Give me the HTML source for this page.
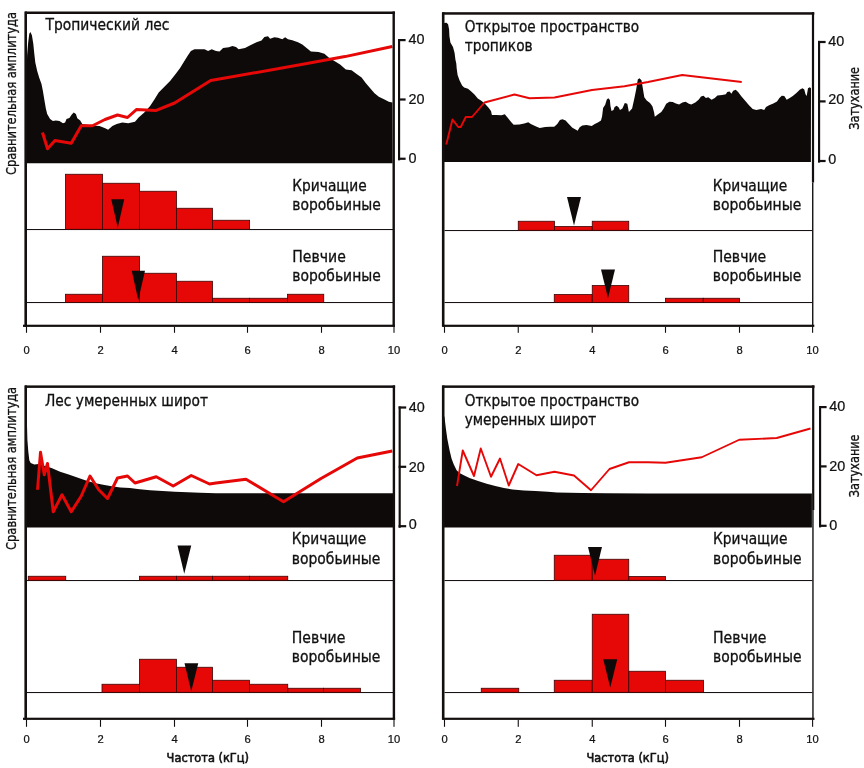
<!DOCTYPE html>
<html lang="ru"><head><meta charset="utf-8"><title>Частота (кГц)</title>
<style>html,body{margin:0;padding:0;background:#fff}svg{display:block}text{white-space:pre}</style>
</head><body>
<svg width="864" height="768" viewBox="0 0 864 768">
<rect width="864" height="768" fill="#fff"/>
<polygon points="27.00,163.20 27.00,60.00 27.10,55.20 28.20,42.30 29.30,33.70 30.40,32.00 31.90,35.20 33.30,43.80 34.30,53.80 35.30,62.40 37.20,71.00 39.30,78.10 41.50,83.90 42.90,91.00 44.30,99.60 45.80,108.20 47.20,114.00 50.10,119.00 52.90,121.10 55.80,120.40 59.40,121.10 63.00,123.30 65.10,122.60 66.50,119.00 69.40,118.00 71.60,114.70 73.70,112.50 75.90,114.00 77.30,118.30 80.20,120.40 82.30,124.00 92.30,125.40 99.50,126.10 105.20,128.30 108.10,129.70 112.40,126.10 116.70,124.00 122.40,122.60 128.20,123.30 135.00,121.80 138.60,117.50 144.30,112.50 150.10,106.10 154.40,99.60 158.70,92.50 164.40,86.70 170.10,81.00 175.80,73.80 180.10,68.10 184.40,61.00 188.00,55.20 190.90,50.90 194.50,49.20 204.50,49.20 208.10,50.90 211.70,49.20 216.00,50.90 219.50,51.60 223.10,48.10 228.90,47.30 232.40,45.90 236.00,47.00 238.60,49.20 245.00,48.10 250.80,44.90 256.50,42.30 261.50,40.60 264.40,36.90 268.00,36.30 270.10,38.70 274.40,37.30 278.00,37.70 282.30,39.20 285.10,37.30 288.00,39.20 292.30,40.20 298.00,42.30 302.30,44.50 306.60,48.10 310.90,51.60 318.60,52.10 324.40,53.80 328.70,57.40 334.40,61.00 340.10,64.50 345.80,69.50 351.60,70.30 357.30,74.60 361.60,77.40 365.90,83.20 370.20,88.20 374.50,93.20 378.80,96.80 384.50,99.60 388.80,101.80 392.40,102.50 392.60,163.20" fill="#0f0a0a"/>
<polyline points="42.50,132.50 47.50,148.75 55.00,140.50 71.25,143.25 81.25,125.75 92.50,125.75 105.00,119.50 117.50,115.00 127.50,117.50 136.40,109.60 155.60,110.60 174.60,103.00 210.70,80.40 235.00,76.30 300.00,64.80 345.00,56.60 392.30,46.50" fill="none" stroke="#e60707" stroke-width="3.00" stroke-linejoin="round" stroke-linecap="butt"/>
<rect x="25.00" y="11.50" width="369.90" height="2.50" fill="#140f0f"/>
<rect x="24.40" y="11.50" width="2.60" height="315.30" fill="#140f0f"/>
<rect x="392.50" y="11.50" width="2.40" height="315.30" fill="#140f0f"/>
<rect x="23.00" y="324.70" width="371.90" height="2.20" fill="#140f0f"/>
<rect x="25.95" y="326.80" width="1.10" height="6.00" fill="#140f0f"/>
<rect x="99.95" y="326.80" width="1.10" height="6.00" fill="#140f0f"/>
<rect x="173.95" y="326.80" width="1.10" height="6.00" fill="#140f0f"/>
<rect x="246.95" y="326.80" width="1.10" height="6.00" fill="#140f0f"/>
<rect x="320.95" y="326.80" width="1.10" height="6.00" fill="#140f0f"/>
<rect x="393.45" y="326.80" width="1.10" height="6.00" fill="#140f0f"/>
<rect x="27.00" y="229.00" width="366.00" height="1.05" fill="#1a1212"/>
<rect x="27.00" y="302.00" width="366.00" height="1.05" fill="#1a1212"/>
<rect x="65.50" y="174.25" width="37.00" height="55.05" fill="#e60707" stroke="#3a0505" stroke-width="0.8"/>
<rect x="102.50" y="183.25" width="37.00" height="46.05" fill="#e60707" stroke="#3a0505" stroke-width="0.8"/>
<rect x="139.50" y="191.25" width="37.00" height="38.05" fill="#e60707" stroke="#3a0505" stroke-width="0.8"/>
<rect x="176.50" y="208.25" width="36.00" height="21.05" fill="#e60707" stroke="#3a0505" stroke-width="0.8"/>
<rect x="212.50" y="220.25" width="37.10" height="9.05" fill="#e60707" stroke="#3a0505" stroke-width="0.8"/>
<rect x="65.50" y="294.25" width="37.00" height="8.25" fill="#e60707" stroke="#3a0505" stroke-width="0.8"/>
<rect x="102.50" y="256.25" width="37.00" height="46.25" fill="#e60707" stroke="#3a0505" stroke-width="0.8"/>
<rect x="139.50" y="273.25" width="37.00" height="29.25" fill="#e60707" stroke="#3a0505" stroke-width="0.8"/>
<rect x="176.50" y="281.25" width="36.00" height="21.25" fill="#e60707" stroke="#3a0505" stroke-width="0.8"/>
<rect x="212.50" y="298.25" width="36.90" height="4.25" fill="#e60707" stroke="#3a0505" stroke-width="0.8"/>
<rect x="249.40" y="298.25" width="38.10" height="4.25" fill="#e60707" stroke="#3a0505" stroke-width="0.8"/>
<rect x="287.50" y="294.25" width="36.25" height="8.25" fill="#e60707" stroke="#3a0505" stroke-width="0.8"/>
<polygon points="111.25,199.25 124.25,199.25 117.75,227.50" fill="#0f0a0a"/>
<polygon points="131.75,270.75 145.00,270.75 138.25,300.00" fill="#0f0a0a"/>
<text x="26.50" y="353.60" font-family="'Liberation Sans',sans-serif" font-size="11.20" text-anchor="middle" fill="#111" stroke="#111" stroke-width="0.22">0</text>
<text x="100.50" y="353.60" font-family="'Liberation Sans',sans-serif" font-size="11.20" text-anchor="middle" fill="#111" stroke="#111" stroke-width="0.22">2</text>
<text x="174.50" y="353.60" font-family="'Liberation Sans',sans-serif" font-size="11.20" text-anchor="middle" fill="#111" stroke="#111" stroke-width="0.22">4</text>
<text x="247.50" y="353.60" font-family="'Liberation Sans',sans-serif" font-size="11.20" text-anchor="middle" fill="#111" stroke="#111" stroke-width="0.22">6</text>
<text x="321.50" y="353.60" font-family="'Liberation Sans',sans-serif" font-size="11.20" text-anchor="middle" fill="#111" stroke="#111" stroke-width="0.22">8</text>
<text x="394.00" y="353.60" font-family="'Liberation Sans',sans-serif" font-size="11.20" text-anchor="middle" fill="#111" stroke="#111" stroke-width="0.22">10</text>
<rect x="398.00" y="39.00" width="2.15" height="121.35" fill="#140f0f"/>
<rect x="398.00" y="39.00" width="7.60" height="2.20" fill="#140f0f"/>
<rect x="398.00" y="98.40" width="7.60" height="2.20" fill="#140f0f"/>
<rect x="398.00" y="157.65" width="7.60" height="2.20" fill="#140f0f"/>
<text x="408.40" y="43.70" font-family="'Liberation Sans',sans-serif" font-size="14.40" text-anchor="start" fill="#111" stroke="#111" stroke-width="0.22">40</text>
<text x="408.40" y="103.70" font-family="'Liberation Sans',sans-serif" font-size="14.40" text-anchor="start" fill="#111" stroke="#111" stroke-width="0.22">20</text>
<text x="408.40" y="162.70" font-family="'Liberation Sans',sans-serif" font-size="14.40" text-anchor="start" fill="#111" stroke="#111" stroke-width="0.22">0</text>
<text x="45.50" y="30.00" font-family="'DejaVu Sans Condensed','DejaVu Sans','Liberation Sans',sans-serif" font-size="15.50" text-anchor="start" fill="#111" stroke="#111" stroke-width="0.3" textLength="124.00" lengthAdjust="spacingAndGlyphs">Тропический лес</text>
<text x="292.30" y="190.50" font-family="'DejaVu Sans Condensed','DejaVu Sans','Liberation Sans',sans-serif" font-size="15.30" text-anchor="start" fill="#111" stroke="#111" stroke-width="0.3" textLength="74.50" lengthAdjust="spacingAndGlyphs">Кричащие</text>
<text x="292.30" y="209.50" font-family="'DejaVu Sans Condensed','DejaVu Sans','Liberation Sans',sans-serif" font-size="15.30" text-anchor="start" fill="#111" stroke="#111" stroke-width="0.3" textLength="88.50" lengthAdjust="spacingAndGlyphs">воробьиные</text>
<text x="292.30" y="261.75" font-family="'DejaVu Sans Condensed','DejaVu Sans','Liberation Sans',sans-serif" font-size="15.30" text-anchor="start" fill="#111" stroke="#111" stroke-width="0.3" textLength="53.50" lengthAdjust="spacingAndGlyphs">Певчие</text>
<text x="292.30" y="280.50" font-family="'DejaVu Sans Condensed','DejaVu Sans','Liberation Sans',sans-serif" font-size="15.30" text-anchor="start" fill="#111" stroke="#111" stroke-width="0.3" textLength="88.50" lengthAdjust="spacingAndGlyphs">воробьиные</text>
<text transform="translate(15.60,93.50) rotate(-90)" font-family="'DejaVu Sans Condensed','DejaVu Sans','Liberation Sans',sans-serif" font-size="14.30" text-anchor="middle" fill="#111" stroke="#111" stroke-width="0.3" textLength="163.00" lengthAdjust="spacingAndGlyphs">Сравнительная амплитуда</text>
<polygon points="444.00,162.00 444.00,23.00 446.50,22.80 448.10,24.30 449.10,29.50 449.40,36.00 450.40,42.60 453.00,47.10 454.60,53.00 455.40,59.50 456.30,63.40 456.70,68.60 457.60,75.10 459.50,80.30 462.10,85.50 464.10,87.50 468.00,88.80 471.25,91.40 474.50,94.60 477.80,98.50 481.70,101.10 484.90,103.75 488.40,107.40 491.00,110.90 491.90,115.00 495.90,115.00 501.60,115.30 504.80,114.20 508.10,118.20 511.30,122.30 513.70,124.70 519.40,124.40 524.30,123.40 528.30,122.30 530.80,123.90 535.60,126.30 539.70,127.90 545.30,127.10 550.00,126.70 554.20,126.70 557.30,124.00 559.90,119.90 562.50,119.20 565.60,120.40 568.75,124.00 572.40,127.70 576.00,129.80 577.60,130.80 579.70,127.20 582.30,125.60 586.50,125.10 591.70,126.10 594.80,124.00 597.90,122.50 601.00,120.40 602.10,116.25 603.10,107.90 605.20,104.80 606.80,99.60 608.30,98.30 609.90,100.10 610.40,105.80 611.50,111.00 613.50,110.00 614.60,106.90 616.70,105.80 618.75,107.40 620.00,110.00 622.40,108.60 624.80,102.90 627.30,103.80 628.90,111.90 632.10,108.60 634.60,97.30 636.20,89.20 637.80,79.40 639.40,78.20 641.50,80.30 642.70,87.60 644.30,97.30 646.70,100.50 650.00,102.90 652.40,106.20 654.00,111.90 654.80,116.70 658.10,114.30 661.30,111.90 663.70,108.60 666.20,103.80 669.40,101.80 672.70,102.10 675.90,103.40 679.10,104.60 682.40,102.50 685.60,101.80 688.90,103.80 691.30,104.60 695.30,102.50 698.60,99.70 701.00,96.50 703.50,95.70 705.90,98.10 708.30,97.30 711.60,99.70 714.80,98.10 717.40,95.50 722.30,94.90 725.90,94.30 727.20,91.90 729.60,91.60 731.40,93.70 733.20,90.70 735.70,89.70 738.10,91.90 741.70,96.70 745.40,101.00 749.00,105.20 752.70,108.90 756.30,109.90 758.70,109.50 761.20,109.10 764.20,110.10 766.00,107.10 769.10,105.20 773.30,103.40 777.00,101.60 779.40,97.90 781.80,95.80 784.30,96.10 786.70,99.80 789.70,97.90 792.80,96.10 796.40,93.10 800.00,89.40 802.50,88.20 804.30,89.40 805.50,94.30 806.70,96.10 808.00,88.20 809.80,87.25 811.00,88.20 810.90,162.00" fill="#0f0a0a"/>
<polyline points="446.25,144.50 452.50,119.50 458.25,127.00 460.75,127.00 465.75,117.00 472.00,117.00 484.50,102.50 514.50,94.50 529.50,98.25 554.50,97.50 592.00,90.00 624.50,86.25 648.00,82.00 682.25,75.00 741.75,82.00" fill="none" stroke="#e60707" stroke-width="1.90" stroke-linejoin="round" stroke-linecap="butt"/>
<rect x="442.50" y="12.20" width="371.80" height="2.50" fill="#140f0f"/>
<rect x="441.90" y="12.20" width="2.60" height="314.60" fill="#140f0f"/>
<rect x="811.90" y="12.20" width="2.20" height="170.30" fill="#140f0f"/>
<rect x="812.10" y="182.50" width="1.30" height="144.30" fill="#000"/>
<rect x="442.50" y="324.70" width="371.80" height="2.20" fill="#140f0f"/>
<rect x="443.95" y="326.80" width="1.10" height="6.00" fill="#140f0f"/>
<rect x="517.70" y="326.80" width="1.10" height="6.00" fill="#140f0f"/>
<rect x="591.70" y="326.80" width="1.10" height="6.00" fill="#140f0f"/>
<rect x="664.95" y="326.80" width="1.10" height="6.00" fill="#140f0f"/>
<rect x="738.95" y="326.80" width="1.10" height="6.00" fill="#140f0f"/>
<rect x="812.05" y="326.80" width="1.10" height="6.00" fill="#140f0f"/>
<rect x="444.50" y="230.00" width="368.00" height="1.05" fill="#1a1212"/>
<rect x="444.50" y="302.00" width="368.00" height="1.05" fill="#1a1212"/>
<rect x="518.25" y="221.25" width="36.25" height="9.05" fill="#e60707" stroke="#3a0505" stroke-width="0.8"/>
<rect x="554.50" y="226.50" width="37.75" height="3.80" fill="#e60707" stroke="#3a0505" stroke-width="0.8"/>
<rect x="592.25" y="221.25" width="36.50" height="9.05" fill="#e60707" stroke="#3a0505" stroke-width="0.8"/>
<rect x="554.25" y="294.50" width="38.00" height="8.00" fill="#e60707" stroke="#3a0505" stroke-width="0.8"/>
<rect x="592.25" y="285.50" width="36.50" height="17.00" fill="#e60707" stroke="#3a0505" stroke-width="0.8"/>
<rect x="665.50" y="298.25" width="37.75" height="4.25" fill="#e60707" stroke="#3a0505" stroke-width="0.8"/>
<rect x="703.25" y="298.25" width="36.25" height="4.25" fill="#e60707" stroke="#3a0505" stroke-width="0.8"/>
<polygon points="567.00,197.00 581.00,197.00 574.00,225.50" fill="#0f0a0a"/>
<polygon points="601.00,269.50 615.00,269.50 608.00,298.00" fill="#0f0a0a"/>
<text x="444.50" y="353.60" font-family="'Liberation Sans',sans-serif" font-size="11.20" text-anchor="middle" fill="#111" stroke="#111" stroke-width="0.22">0</text>
<text x="518.25" y="353.60" font-family="'Liberation Sans',sans-serif" font-size="11.20" text-anchor="middle" fill="#111" stroke="#111" stroke-width="0.22">2</text>
<text x="592.25" y="353.60" font-family="'Liberation Sans',sans-serif" font-size="11.20" text-anchor="middle" fill="#111" stroke="#111" stroke-width="0.22">4</text>
<text x="665.50" y="353.60" font-family="'Liberation Sans',sans-serif" font-size="11.20" text-anchor="middle" fill="#111" stroke="#111" stroke-width="0.22">6</text>
<text x="739.50" y="353.60" font-family="'Liberation Sans',sans-serif" font-size="11.20" text-anchor="middle" fill="#111" stroke="#111" stroke-width="0.22">8</text>
<text x="812.60" y="353.60" font-family="'Liberation Sans',sans-serif" font-size="11.20" text-anchor="middle" fill="#111" stroke="#111" stroke-width="0.22">10</text>
<rect x="818.00" y="40.90" width="2.15" height="121.70" fill="#140f0f"/>
<rect x="818.00" y="40.90" width="7.60" height="2.20" fill="#140f0f"/>
<rect x="818.00" y="100.30" width="7.60" height="2.20" fill="#140f0f"/>
<rect x="818.00" y="159.90" width="7.60" height="2.20" fill="#140f0f"/>
<text x="828.30" y="45.60" font-family="'Liberation Sans',sans-serif" font-size="14.40" text-anchor="start" fill="#111" stroke="#111" stroke-width="0.22">40</text>
<text x="828.30" y="103.80" font-family="'Liberation Sans',sans-serif" font-size="14.40" text-anchor="start" fill="#111" stroke="#111" stroke-width="0.22">20</text>
<text x="828.30" y="163.90" font-family="'Liberation Sans',sans-serif" font-size="14.40" text-anchor="start" fill="#111" stroke="#111" stroke-width="0.22">0</text>
<text x="464.70" y="32.00" font-family="'DejaVu Sans Condensed','DejaVu Sans','Liberation Sans',sans-serif" font-size="15.30" text-anchor="start" fill="#111" stroke="#111" stroke-width="0.3" textLength="174.50" lengthAdjust="spacingAndGlyphs">Открытое пространство</text>
<text x="464.70" y="50.75" font-family="'DejaVu Sans Condensed','DejaVu Sans','Liberation Sans',sans-serif" font-size="15.30" text-anchor="start" fill="#111" stroke="#111" stroke-width="0.3" textLength="68.00" lengthAdjust="spacingAndGlyphs">тропиков</text>
<text x="712.70" y="190.50" font-family="'DejaVu Sans Condensed','DejaVu Sans','Liberation Sans',sans-serif" font-size="15.30" text-anchor="start" fill="#111" stroke="#111" stroke-width="0.3" textLength="74.50" lengthAdjust="spacingAndGlyphs">Кричащие</text>
<text x="712.70" y="209.50" font-family="'DejaVu Sans Condensed','DejaVu Sans','Liberation Sans',sans-serif" font-size="15.30" text-anchor="start" fill="#111" stroke="#111" stroke-width="0.3" textLength="88.50" lengthAdjust="spacingAndGlyphs">воробьиные</text>
<text x="712.70" y="261.75" font-family="'DejaVu Sans Condensed','DejaVu Sans','Liberation Sans',sans-serif" font-size="15.30" text-anchor="start" fill="#111" stroke="#111" stroke-width="0.3" textLength="53.50" lengthAdjust="spacingAndGlyphs">Певчие</text>
<text x="712.70" y="280.50" font-family="'DejaVu Sans Condensed','DejaVu Sans','Liberation Sans',sans-serif" font-size="15.30" text-anchor="start" fill="#111" stroke="#111" stroke-width="0.3" textLength="88.50" lengthAdjust="spacingAndGlyphs">воробьиные</text>
<text transform="translate(858.50,98.30) rotate(-90)" font-family="'DejaVu Sans Condensed','DejaVu Sans','Liberation Sans',sans-serif" font-size="14.30" text-anchor="middle" fill="#111" stroke="#111" stroke-width="0.3" textLength="62.70" lengthAdjust="spacingAndGlyphs">Затухание</text>
<polygon points="26.50,527.60 26.50,425.80 27.00,425.80 27.40,440.10 28.30,451.60 29.30,460.20 30.70,463.10 34.30,464.50 38.60,463.90 45.00,466.00 51.50,468.10 60.10,471.70 68.70,474.50 77.30,477.40 85.90,480.50 94.50,483.10 103.10,484.80 111.70,486.30 120.30,487.40 130.00,488.10 137.50,489.00 150.00,490.25 162.50,491.00 175.00,491.75 187.50,492.25 200.00,492.75 216.00,493.25 393.00,493.25 393.00,527.60" fill="#0f0a0a"/>
<polyline points="37.50,489.75 40.50,452.25 44.25,474.75 47.50,463.50 53.25,511.75 62.00,494.75 71.25,511.75 81.25,496.00 90.00,476.00 98.75,489.75 107.50,498.50 117.50,478.00 127.50,476.00 135.00,483.00 156.25,476.75 173.25,486.00 191.25,475.50 209.50,484.00 216.00,483.00 246.00,479.25 283.50,501.75 321.00,478.50 357.25,458.00 392.25,451.00" fill="none" stroke="#e60707" stroke-width="3.00" stroke-linejoin="round" stroke-linecap="butt"/>
<rect x="25.00" y="385.40" width="370.10" height="2.50" fill="#140f0f"/>
<rect x="24.40" y="385.40" width="2.60" height="334.40" fill="#140f0f"/>
<rect x="392.70" y="385.40" width="2.40" height="334.40" fill="#140f0f"/>
<rect x="23.00" y="717.70" width="372.10" height="2.20" fill="#140f0f"/>
<rect x="25.95" y="719.80" width="1.10" height="7.00" fill="#140f0f"/>
<rect x="99.95" y="719.80" width="1.10" height="7.00" fill="#140f0f"/>
<rect x="173.95" y="719.80" width="1.10" height="7.00" fill="#140f0f"/>
<rect x="246.95" y="719.80" width="1.10" height="7.00" fill="#140f0f"/>
<rect x="320.95" y="719.80" width="1.10" height="7.00" fill="#140f0f"/>
<rect x="393.45" y="719.80" width="1.10" height="7.00" fill="#140f0f"/>
<rect x="27.00" y="580.00" width="366.00" height="1.05" fill="#1a1212"/>
<rect x="27.00" y="692.00" width="366.00" height="1.05" fill="#1a1212"/>
<rect x="28.25" y="576.25" width="37.50" height="4.05" fill="#e60707" stroke="#3a0505" stroke-width="0.8"/>
<rect x="139.50" y="576.25" width="37.00" height="4.05" fill="#e60707" stroke="#3a0505" stroke-width="0.8"/>
<rect x="176.50" y="576.25" width="36.00" height="4.05" fill="#e60707" stroke="#3a0505" stroke-width="0.8"/>
<rect x="212.50" y="576.25" width="37.00" height="4.05" fill="#e60707" stroke="#3a0505" stroke-width="0.8"/>
<rect x="249.50" y="576.25" width="38.25" height="4.05" fill="#e60707" stroke="#3a0505" stroke-width="0.8"/>
<rect x="102.00" y="684.25" width="37.50" height="8.05" fill="#e60707" stroke="#3a0505" stroke-width="0.8"/>
<rect x="139.50" y="659.25" width="37.00" height="33.05" fill="#e60707" stroke="#3a0505" stroke-width="0.8"/>
<rect x="176.50" y="667.25" width="36.00" height="25.05" fill="#e60707" stroke="#3a0505" stroke-width="0.8"/>
<rect x="212.50" y="680.25" width="37.00" height="12.05" fill="#e60707" stroke="#3a0505" stroke-width="0.8"/>
<rect x="249.50" y="684.25" width="38.25" height="8.05" fill="#e60707" stroke="#3a0505" stroke-width="0.8"/>
<rect x="287.75" y="688.25" width="35.75" height="4.05" fill="#e60707" stroke="#3a0505" stroke-width="0.8"/>
<rect x="323.50" y="688.25" width="37.00" height="4.05" fill="#e60707" stroke="#3a0505" stroke-width="0.8"/>
<polygon points="177.50,545.50 191.25,545.50 184.25,573.75" fill="#0f0a0a"/>
<polygon points="184.50,663.25 198.25,663.25 191.25,691.25" fill="#0f0a0a"/>
<text x="26.50" y="742.50" font-family="'Liberation Sans',sans-serif" font-size="11.20" text-anchor="middle" fill="#111" stroke="#111" stroke-width="0.22">0</text>
<text x="100.50" y="742.50" font-family="'Liberation Sans',sans-serif" font-size="11.20" text-anchor="middle" fill="#111" stroke="#111" stroke-width="0.22">2</text>
<text x="174.50" y="742.50" font-family="'Liberation Sans',sans-serif" font-size="11.20" text-anchor="middle" fill="#111" stroke="#111" stroke-width="0.22">4</text>
<text x="247.50" y="742.50" font-family="'Liberation Sans',sans-serif" font-size="11.20" text-anchor="middle" fill="#111" stroke="#111" stroke-width="0.22">6</text>
<text x="321.50" y="742.50" font-family="'Liberation Sans',sans-serif" font-size="11.20" text-anchor="middle" fill="#111" stroke="#111" stroke-width="0.22">8</text>
<text x="394.00" y="742.50" font-family="'Liberation Sans',sans-serif" font-size="11.20" text-anchor="middle" fill="#111" stroke="#111" stroke-width="0.22">10</text>
<rect x="398.60" y="406.40" width="2.15" height="121.40" fill="#140f0f"/>
<rect x="398.60" y="406.40" width="7.60" height="2.20" fill="#140f0f"/>
<rect x="398.60" y="465.70" width="7.60" height="2.20" fill="#140f0f"/>
<rect x="398.60" y="525.10" width="7.60" height="2.20" fill="#140f0f"/>
<text x="408.80" y="411.60" font-family="'Liberation Sans',sans-serif" font-size="14.40" text-anchor="start" fill="#111" stroke="#111" stroke-width="0.22">40</text>
<text x="408.80" y="471.50" font-family="'Liberation Sans',sans-serif" font-size="14.40" text-anchor="start" fill="#111" stroke="#111" stroke-width="0.22">20</text>
<text x="408.80" y="529.30" font-family="'Liberation Sans',sans-serif" font-size="14.40" text-anchor="start" fill="#111" stroke="#111" stroke-width="0.22">0</text>
<text x="45.00" y="406.00" font-family="'DejaVu Sans Condensed','DejaVu Sans','Liberation Sans',sans-serif" font-size="15.30" text-anchor="start" fill="#111" stroke="#111" stroke-width="0.3" textLength="163.00" lengthAdjust="spacingAndGlyphs">Лес умеренных широт</text>
<text x="291.80" y="544.40" font-family="'DejaVu Sans Condensed','DejaVu Sans','Liberation Sans',sans-serif" font-size="15.30" text-anchor="start" fill="#111" stroke="#111" stroke-width="0.3" textLength="74.50" lengthAdjust="spacingAndGlyphs">Кричащие</text>
<text x="291.80" y="563.50" font-family="'DejaVu Sans Condensed','DejaVu Sans','Liberation Sans',sans-serif" font-size="15.30" text-anchor="start" fill="#111" stroke="#111" stroke-width="0.3" textLength="88.50" lengthAdjust="spacingAndGlyphs">воробьиные</text>
<text x="291.80" y="642.50" font-family="'DejaVu Sans Condensed','DejaVu Sans','Liberation Sans',sans-serif" font-size="15.30" text-anchor="start" fill="#111" stroke="#111" stroke-width="0.3" textLength="53.50" lengthAdjust="spacingAndGlyphs">Певчие</text>
<text x="291.80" y="661.75" font-family="'DejaVu Sans Condensed','DejaVu Sans','Liberation Sans',sans-serif" font-size="15.30" text-anchor="start" fill="#111" stroke="#111" stroke-width="0.3" textLength="88.50" lengthAdjust="spacingAndGlyphs">воробьиные</text>
<text transform="translate(15.60,468.40) rotate(-90)" font-family="'DejaVu Sans Condensed','DejaVu Sans','Liberation Sans',sans-serif" font-size="14.30" text-anchor="middle" fill="#111" stroke="#111" stroke-width="0.3" textLength="163.00" lengthAdjust="spacingAndGlyphs">Сравнительная амплитуда</text>
<text x="166.60" y="761.70" font-family="'DejaVu Sans Condensed','DejaVu Sans','Liberation Sans',sans-serif" font-size="12.40" text-anchor="start" fill="#111" stroke="#111" stroke-width="0.55" textLength="82.40" lengthAdjust="spacingAndGlyphs">Частота (кГц)</text>
<polygon points="444.00,527.60 444.00,416.50 444.40,416.50 445.90,428.70 447.30,438.70 449.50,450.10 451.60,458.70 453.80,464.50 456.60,470.20 459.50,473.10 463.80,475.20 469.50,478.10 478.10,480.90 486.70,483.80 495.30,486.00 503.90,488.10 512.50,489.50 524.00,490.50 535.40,491.00 548.00,491.70 557.00,492.50 582.00,493.00 607.00,493.25 648.00,493.50 811.90,493.50 811.90,527.60" fill="#0f0a0a"/>
<polyline points="457.00,486.00 462.75,450.50 474.00,476.00 480.75,448.50 491.00,476.75 500.00,458.50 508.75,485.50 518.25,464.00 536.50,475.25 554.50,471.75 574.00,475.50 591.00,490.25 609.50,469.00 629.00,462.25 648.00,462.25 665.50,462.75 701.75,457.25 739.25,439.75 776.75,438.00 810.50,428.50" fill="none" stroke="#e60707" stroke-width="1.90" stroke-linejoin="round" stroke-linecap="butt"/>
<rect x="442.50" y="385.40" width="372.00" height="2.50" fill="#140f0f"/>
<rect x="441.90" y="385.40" width="2.60" height="334.40" fill="#140f0f"/>
<rect x="812.10" y="385.40" width="2.20" height="124.60" fill="#140f0f"/>
<rect x="812.30" y="510.00" width="1.30" height="209.80" fill="#000"/>
<rect x="442.50" y="717.70" width="372.00" height="2.20" fill="#140f0f"/>
<rect x="443.95" y="719.80" width="1.10" height="7.00" fill="#140f0f"/>
<rect x="517.70" y="719.80" width="1.10" height="7.00" fill="#140f0f"/>
<rect x="591.70" y="719.80" width="1.10" height="7.00" fill="#140f0f"/>
<rect x="664.95" y="719.80" width="1.10" height="7.00" fill="#140f0f"/>
<rect x="738.95" y="719.80" width="1.10" height="7.00" fill="#140f0f"/>
<rect x="812.05" y="719.80" width="1.10" height="7.00" fill="#140f0f"/>
<rect x="444.50" y="580.00" width="368.00" height="1.05" fill="#1a1212"/>
<rect x="444.50" y="692.00" width="368.00" height="1.05" fill="#1a1212"/>
<rect x="554.25" y="555.25" width="38.00" height="25.05" fill="#e60707" stroke="#3a0505" stroke-width="0.8"/>
<rect x="592.25" y="559.25" width="36.50" height="21.05" fill="#e60707" stroke="#3a0505" stroke-width="0.8"/>
<rect x="628.75" y="576.50" width="36.75" height="3.80" fill="#e60707" stroke="#3a0505" stroke-width="0.8"/>
<rect x="481.25" y="688.25" width="37.50" height="4.05" fill="#e60707" stroke="#3a0505" stroke-width="0.8"/>
<rect x="554.25" y="680.25" width="38.00" height="12.05" fill="#e60707" stroke="#3a0505" stroke-width="0.8"/>
<rect x="592.25" y="614.25" width="36.50" height="78.05" fill="#e60707" stroke="#3a0505" stroke-width="0.8"/>
<rect x="628.75" y="671.25" width="36.75" height="21.05" fill="#e60707" stroke="#3a0505" stroke-width="0.8"/>
<rect x="665.50" y="680.25" width="38.00" height="12.05" fill="#e60707" stroke="#3a0505" stroke-width="0.8"/>
<polygon points="588.00,547.00 602.00,547.00 595.00,575.50" fill="#0f0a0a"/>
<polygon points="603.25,659.25 617.25,659.25 610.25,687.50" fill="#0f0a0a"/>
<text x="444.50" y="742.50" font-family="'Liberation Sans',sans-serif" font-size="11.20" text-anchor="middle" fill="#111" stroke="#111" stroke-width="0.22">0</text>
<text x="518.25" y="742.50" font-family="'Liberation Sans',sans-serif" font-size="11.20" text-anchor="middle" fill="#111" stroke="#111" stroke-width="0.22">2</text>
<text x="592.25" y="742.50" font-family="'Liberation Sans',sans-serif" font-size="11.20" text-anchor="middle" fill="#111" stroke="#111" stroke-width="0.22">4</text>
<text x="665.50" y="742.50" font-family="'Liberation Sans',sans-serif" font-size="11.20" text-anchor="middle" fill="#111" stroke="#111" stroke-width="0.22">6</text>
<text x="739.50" y="742.50" font-family="'Liberation Sans',sans-serif" font-size="11.20" text-anchor="middle" fill="#111" stroke="#111" stroke-width="0.22">8</text>
<text x="812.60" y="742.50" font-family="'Liberation Sans',sans-serif" font-size="11.20" text-anchor="middle" fill="#111" stroke="#111" stroke-width="0.22">10</text>
<rect x="819.00" y="406.00" width="2.15" height="121.40" fill="#140f0f"/>
<rect x="819.00" y="406.00" width="7.60" height="2.20" fill="#140f0f"/>
<rect x="819.00" y="465.30" width="7.60" height="2.20" fill="#140f0f"/>
<rect x="819.00" y="524.70" width="7.60" height="2.20" fill="#140f0f"/>
<text x="829.20" y="410.60" font-family="'Liberation Sans',sans-serif" font-size="14.40" text-anchor="start" fill="#111" stroke="#111" stroke-width="0.22">40</text>
<text x="829.20" y="470.50" font-family="'Liberation Sans',sans-serif" font-size="14.40" text-anchor="start" fill="#111" stroke="#111" stroke-width="0.22">20</text>
<text x="829.20" y="529.60" font-family="'Liberation Sans',sans-serif" font-size="14.40" text-anchor="start" fill="#111" stroke="#111" stroke-width="0.22">0</text>
<text x="464.70" y="406.00" font-family="'DejaVu Sans Condensed','DejaVu Sans','Liberation Sans',sans-serif" font-size="15.30" text-anchor="start" fill="#111" stroke="#111" stroke-width="0.3" textLength="174.50" lengthAdjust="spacingAndGlyphs">Открытое пространство</text>
<text x="464.70" y="424.75" font-family="'DejaVu Sans Condensed','DejaVu Sans','Liberation Sans',sans-serif" font-size="15.30" text-anchor="start" fill="#111" stroke="#111" stroke-width="0.3" textLength="131.50" lengthAdjust="spacingAndGlyphs">умеренных широт</text>
<text x="713.00" y="544.40" font-family="'DejaVu Sans Condensed','DejaVu Sans','Liberation Sans',sans-serif" font-size="15.30" text-anchor="start" fill="#111" stroke="#111" stroke-width="0.3" textLength="74.50" lengthAdjust="spacingAndGlyphs">Кричащие</text>
<text x="713.00" y="563.50" font-family="'DejaVu Sans Condensed','DejaVu Sans','Liberation Sans',sans-serif" font-size="15.30" text-anchor="start" fill="#111" stroke="#111" stroke-width="0.3" textLength="88.50" lengthAdjust="spacingAndGlyphs">воробьиные</text>
<text x="713.00" y="642.50" font-family="'DejaVu Sans Condensed','DejaVu Sans','Liberation Sans',sans-serif" font-size="15.30" text-anchor="start" fill="#111" stroke="#111" stroke-width="0.3" textLength="53.50" lengthAdjust="spacingAndGlyphs">Певчие</text>
<text x="713.00" y="661.75" font-family="'DejaVu Sans Condensed','DejaVu Sans','Liberation Sans',sans-serif" font-size="15.30" text-anchor="start" fill="#111" stroke="#111" stroke-width="0.3" textLength="88.50" lengthAdjust="spacingAndGlyphs">воробьиные</text>
<text transform="translate(858.70,465.80) rotate(-90)" font-family="'DejaVu Sans Condensed','DejaVu Sans','Liberation Sans',sans-serif" font-size="14.30" text-anchor="middle" fill="#111" stroke="#111" stroke-width="0.3" textLength="62.70" lengthAdjust="spacingAndGlyphs">Затухание</text>
<text x="586.50" y="761.70" font-family="'DejaVu Sans Condensed','DejaVu Sans','Liberation Sans',sans-serif" font-size="12.40" text-anchor="start" fill="#111" stroke="#111" stroke-width="0.55" textLength="82.40" lengthAdjust="spacingAndGlyphs">Частота (кГц)</text>
</svg>
</body></html>
